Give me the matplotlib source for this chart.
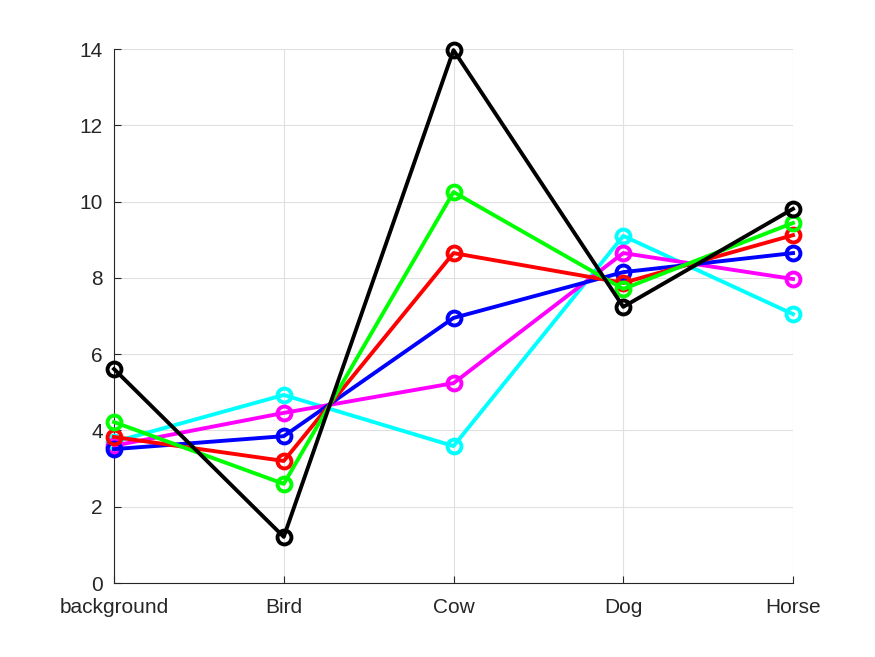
import matplotlib
matplotlib.use("Agg")
import matplotlib.pyplot as plt

categories = ["background", "Bird", "Cow", "Dog", "Horse"]
cyan_vals = [3.70, 4.93, 3.59, 9.10, 7.05]
magenta_vals = [3.60, 4.46, 5.24, 8.65, 7.97]
blue_vals = [3.51, 3.85, 6.95, 8.15, 8.65]
red_vals = [3.83, 3.20, 8.65, 7.87, 9.12]
green_vals = [4.22, 2.60, 10.25, 7.71, 9.44]
black_vals = [5.61, 1.21, 13.97, 7.24, 9.81]

series = [
    (cyan_vals, "#00ffff"),
    (magenta_vals, "#ff00ff"),
    (blue_vals, "#0000ff"),
    (red_vals, "#ff0000"),
    (green_vals, "#00ff00"),
    (black_vals, "#000000"),
]

plt.rcParams["font.family"] = ["Liberation Sans", "DejaVu Sans"]

fig = plt.figure(figsize=(8.75, 6.57), dpi=100)
ax = fig.add_axes([0.1303, 0.1126, 0.7760, 0.8128])

x = list(range(1, len(categories) + 1))
for vals, col in series:
    ax.plot(x, vals, "-o", color=col, lw=2.8, ms=10, mfc="none", mew=2.8,
            clip_on=False, zorder=3)

ax.set_xlim(1, 5)
ax.set_ylim(0, 14)
ax.set_xticks(x)
ax.set_xticklabels(categories)
ax.set_yticks(range(0, 15, 2))
ax.grid(True, color="#e0e0e0", lw=0.8)
ax.set_axisbelow(True)
for s in ("top", "right"):
    ax.spines[s].set_visible(False)
for s in ("left", "bottom"):
    ax.spines[s].set_color("#262626")
    ax.spines[s].set_linewidth(0.8)
ax.tick_params(direction="in", length=5, labelsize=15, colors="#262626")
ax.tick_params(axis="x", pad=11)
ax.tick_params(axis="y", pad=8)

fig.savefig("out.png", dpi=100)
